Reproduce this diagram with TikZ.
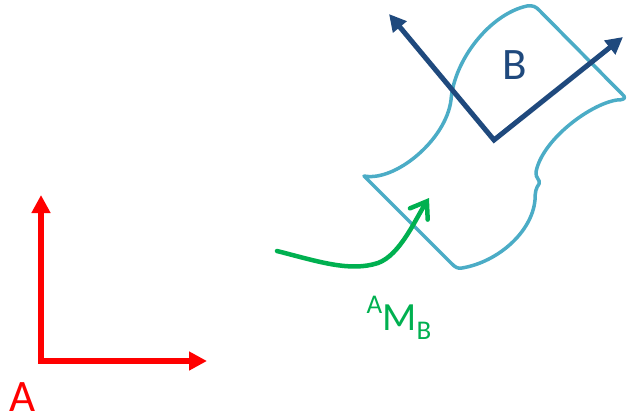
\documentclass[tikz,border=0pt]{standalone}
\usepackage{fontspec}
\setmainfont{Carlito}
\usetikzlibrary{arrows.meta}
\definecolor{axred}{HTML}{FF0000}
\definecolor{bodyblue}{HTML}{4BACC6}
\definecolor{frameblue}{HTML}{1F497D}
\definecolor{mgreen}{HTML}{00B050}
\tikzset{
  redaxis/.style={draw=axred, line width=5.5pt, miter limit=10, {Triangle[length=18pt,width=18pt]}-{Triangle[length=18pt,width=18pt]}},
  blueaxis/.style={draw=frameblue, line width=5pt, miter limit=10, {Triangle[length=17pt,width=17pt]}-{Triangle[length=17pt,width=17pt]}},
  bodyline/.style={draw=bodyblue, line width=3.5pt, line join=round},
  transarrow/.style={draw=mgreen, line width=4.5pt, line cap=round, -{Straight Barb[length=15pt,width=21pt,line cap=round]}},
  bigtxt/.style={inner sep=0pt, anchor=base, font=\fontsize{45}{50}\selectfont},
}
\begin{document}
\begin{tikzpicture}[x=1pt,y=-1pt]
\useasboundingbox (0,0) rectangle (627,418);
% body outline
\draw[bodyline] (364,176)
  .. controls (395,182) and (446,140) .. (451,100)
  .. controls (454,60) and (490,14) .. (527,6)
  .. controls (533,5) and (536,7) .. (539,10)
  -- (624,96)
  .. controls (626,99) and (622,100) .. (617,100)
  .. controls (590,104) and (542,140) .. (536,172)
  .. controls (535,178) and (541,180) .. (539,184)
  .. controls (536,188) and (535,192) .. (535,200)
  .. controls (532,232) and (498,262) .. (462,268)
  .. controls (458,269) and (455,267) .. (452,264)
  -- cycle;
% frame A
\coordinate (ao) at (41,361);
\coordinate (ax) at (207,361);
\coordinate (ay) at (41,195);
\draw[redaxis] (ay) -- (ao) -- (ax);
\node[bigtxt, text=axred] (la) at (23,411) {A};
% frame B
\coordinate (bo) at (494,140);
\coordinate (bx) at (623,37);
\coordinate (by) at (389,14);
\draw[blueaxis] (by) -- (bo) -- (bx);
\node[bigtxt, text=frameblue] (lb) at (514.5,79) {B};
% transform arrow
\coordinate (ms) at (277,251);
\coordinate (mm) at (378,263);
\coordinate (me) at (429,198);
\draw[transarrow] (ms) .. controls (320,262) and (350,272) .. (mm) .. controls (400,255) and (415,220) .. (me);
\node[inner sep=0pt, anchor=base, text=mgreen, font=\fontsize{40}{44}\selectfont] (lm) at (399,330)
  {\raisebox{17pt}{\fontsize{27}{30}\selectfont A}M\raisebox{-9pt}{\fontsize{27}{30}\selectfont B}};
\end{tikzpicture}
\end{document}
